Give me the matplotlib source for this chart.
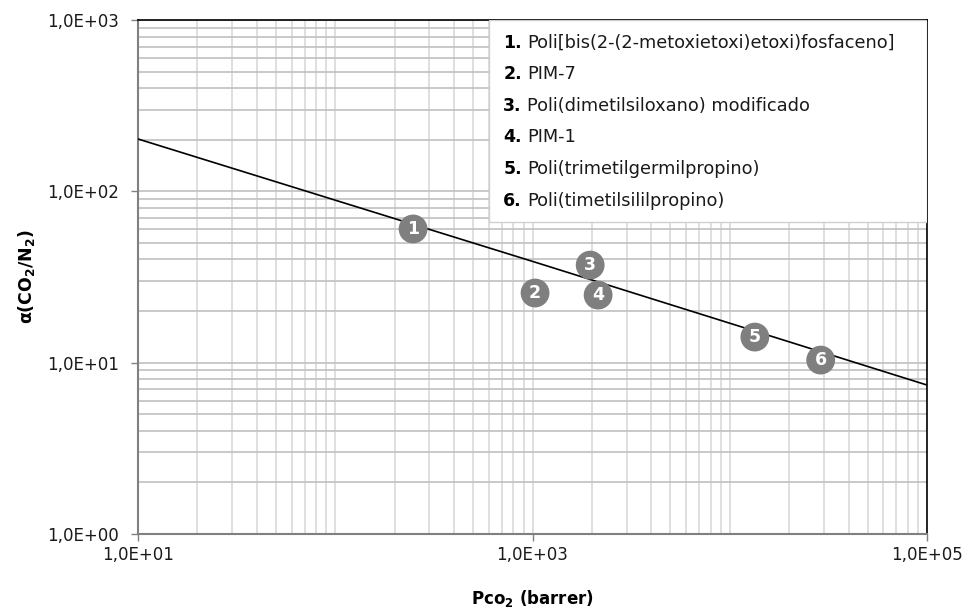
import matplotlib
matplotlib.use('Agg')
import matplotlib.pyplot as plt
from matplotlib.ticker import LogLocator, FixedLocator, NullFormatter

# upper bound line
bound_p = [10, 1000, 100000]
bound_alpha = [202, 39.0, 7.4]

# polymers (numbered markers)
labels = ['1', '2', '3', '4', '5', '6']
perm = [248, 1030, 1960, 2150, 13400, 28900]
alpha = [60.3, 25.5, 37.1, 24.8, 14.1, 10.35]
names = ['Poli[bis(2-(2-metoxietoxi)etoxi)fosfaceno]',
         'PIM-7',
         'Poli(dimetilsiloxano) modificado',
         'PIM-1',
         'Poli(trimetilgermilpropino)',
         'Poli(timetilsililpropino)']

xticks = [10, 1000, 100000]
xticklabels = ['1,0E+01', '1,0E+03', '1,0E+05']
yticks = [1, 10, 100, 1000]
yticklabels = ['1,0E+00', '1,0E+01', '1,0E+02', '1,0E+03']

fig = plt.figure(figsize=(9.7, 6.13), dpi=100)
ax = fig.add_axes([0.1423, 0.1289, 0.8134, 0.8385])
ax.set_xscale('log')
ax.set_yscale('log')
ax.set_xlim(10, 1e5)
ax.set_ylim(1, 1000)

# grid
ax.xaxis.set_major_locator(FixedLocator(xticks))
ax.xaxis.set_minor_locator(LogLocator(base=10, subs=range(1, 10), numticks=20))
ax.yaxis.set_major_locator(FixedLocator(yticks))
ax.yaxis.set_minor_locator(LogLocator(base=10, subs=range(2, 10), numticks=20))
ax.xaxis.set_minor_formatter(NullFormatter())
ax.yaxis.set_minor_formatter(NullFormatter())
ax.grid(True, which='both', axis='x', color='#d9d9d9', lw=1.2)
ax.grid(True, which='both', axis='y', color='#c0c0c0', lw=1.2)
ax.set_axisbelow(True)
ax.tick_params(which='minor', length=0)
ax.tick_params(which='major', length=5, width=1, color='#808080',
               labelsize=12, labelcolor='#1a1a1a')
ax.set_xticklabels(xticklabels)
ax.set_yticklabels(yticklabels)
ax.tick_params(axis='x', pad=4)
ax.tick_params(axis='y', pad=9)

for s in ['left', 'bottom']:
    ax.spines[s].set_color('#808080')
    ax.spines[s].set_linewidth(1.5)
for s in ['top', 'right']:
    ax.spines[s].set_color('black')
    ax.spines[s].set_linewidth(1.2)

ax.plot(bound_p, bound_alpha, color='black', lw=1.2, zorder=3)

ax.scatter(perm, alpha, s=430, color='#7f7f7f', edgecolors='none', zorder=4)
for lab, px, py in zip(labels, perm, alpha):
    ax.text(px, py, lab, color='white', fontsize=12.5, fontweight='bold',
            ha='center', va='center', zorder=5)

# legend box
ax.add_patch(plt.Rectangle((0.445, 0.607), 0.555, 0.393, transform=ax.transAxes,
                           facecolor='white', edgecolor='#d0d0d0', lw=1, zorder=6))
y0 = 0.956
dy = 0.0615
for i, (lab, nm) in enumerate(zip(labels, names)):
    yy = y0 - i * dy
    ax.text(0.463, yy, lab + '.', transform=ax.transAxes, fontsize=12.5,
            fontweight='bold', va='center', ha='left', zorder=7)
    ax.text(0.493, yy, nm, transform=ax.transAxes, fontsize=12.8,
            va='center', ha='left', zorder=7, color='#1a1a1a')

ax.set_xlabel(r'P$\mathbf{co_2}$ (barrer)', fontsize=12, fontweight='bold', labelpad=17)
ax.set_ylabel(r'$\mathbf{\alpha}$(CO$\mathbf{_2}$/N$\mathbf{_2}$)', fontsize=12.5,
              fontweight='bold', labelpad=7)

fig.savefig('out.png', dpi=100)
